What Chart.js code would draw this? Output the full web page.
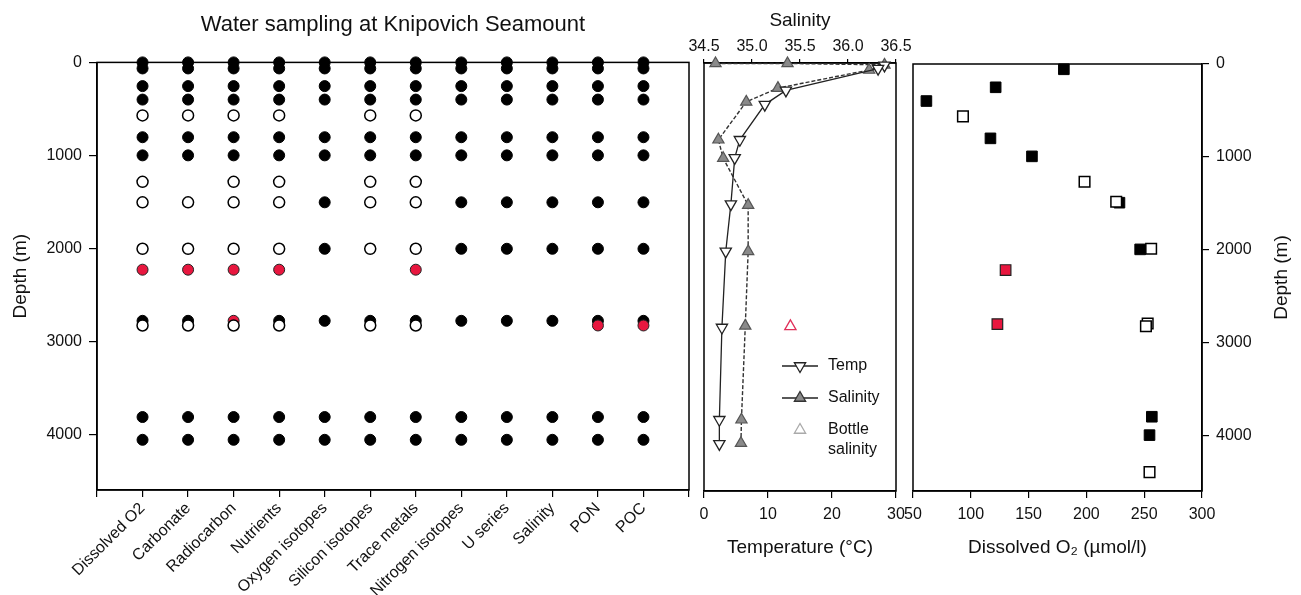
<!DOCTYPE html>
<html>
<head>
<meta charset="utf-8">
<script src="https://cdn.jsdelivr.net/npm/chart.js@4.4.1/dist/chart.umd.min.js"></script>
<style>
  body { margin: 0; background: #fff; }
  #wrap { position: relative; width: 1301px; height: 595px; }
  #wrap canvas { position: absolute; left: 0; top: 0; }
</style>
</head>
<body>
<div id="wrap">
  <canvas id="sampling" width="1301" height="595"></canvas>
  <canvas id="profile" width="1301" height="595"></canvas>
  <canvas id="oxygen" width="1301" height="595"></canvas>
</div>
<script>
// sampling grid
const categories = ['Dissolved O2', 'Carbonate', 'Radiocarbon', 'Nutrients', 'Oxygen isotopes',
  'Silicon isotopes', 'Trace metals', 'Nitrogen isotopes', 'U series', 'Salinity', 'PON', 'POC'];
const sampleDepths = [0, 65, 255, 400, 570, 805, 1000, 1285, 1505, 2005, 2230, 2780, 2830, 3815, 4060];
// one letter per depth: F filled, O open, R red, . none
const sampleCodes = [
  'FFFFOFFOOORFOFF', // Dissolved O2
  'FFFFOFF.OORFOFF', // Carbonate
  'FFFFOFFOOORROFF', // Radiocarbon
  'FFFFOFFOOORFOFF', // Nutrients
  'FFFF.FF.FF.F.FF', // Oxygen isotopes
  'FFFFOFFOOO.FOFF', // Silicon isotopes
  'FFFFOFFOOORFOFF', // Trace metals
  'FFFF.FF.FF.F.FF', // Nitrogen isotopes
  'FFFF.FF.FF.F.FF', // U series
  'FFFF.FF.FF.F.FF', // Salinity
  'FFFF.FF.FF.FRFF', // PON
  'FFFF.FF.FF.FRFF'  // POC
];
const depthTicks = [0, 1000, 2000, 3000, 4000];

// CTD profile
const tempDepth = [25, 60, 295, 447, 825, 1020, 1517, 2025, 2843, 3834, 4094];
const tempC = [28.2, 27.2, 12.8, 9.5, 5.6, 4.8, 4.2, 3.4, 2.8, 2.4, 2.4];
const salDepth = [5, 5, 20, 75, 270, 418, 825, 1023, 1528, 2025, 2825, 3834, 4086];
const salinity = [34.62, 35.37, 36.38, 36.22, 35.27, 34.94, 34.65, 34.70, 34.96, 34.96, 34.93, 34.89, 34.885];
const bottleDepth = [2830];
const bottleSal = [35.4];

// dissolved oxygen
const o2FilledDepth = [57, 251, 399, 801, 995, 1494, 1997, 3800, 3998];
const o2Filled = [180.5, 121.5, 61.6, 117, 152.9, 228.6, 246.5, 256.6, 254.6];
const o2OpenDepth = [564, 1268, 1484, 1990, 2795, 2825, 4397];
const o2Open = [93.2, 198.4, 225.8, 256, 253, 251.5, 254.6];
const o2RedDepth = [2220, 2802];
const o2Red = [130.1, 123];

Chart.defaults.font.family = '"Liberation Sans", Arial, sans-serif';
Chart.defaults.color = '#111';

const pairs = (xs, ys) => xs.map((x, i) => ({ x: x, y: ys[i] }));

function cells(code) {
  const pts = [];
  sampleCodes.forEach((row, c) => {
    [...row].forEach((ch, r) => {
      if (ch === code) pts.push({ x: c + 1, y: sampleDepths[r] });
    });
  });
  return pts;
}

const border = { display: true, color: '#000', width: 1.5 };
const tickGrid = len => ({ drawOnChartArea: false, drawTicks: true, tickLength: len, color: '#000', lineWidth: 1.2 });
const setDepthTicks = s => { s.ticks = depthTicks.map(v => ({ value: v })); };

const framePlugin = {
  id: 'frame',
  beforeDatasetsDraw(chart) {
    const { ctx, chartArea: a } = chart;
    ctx.save();
    ctx.strokeStyle = '#000';
    ctx.lineWidth = 1.5;
    ctx.strokeRect(a.left, a.top, a.right - a.left, a.bottom - a.top);
    ctx.restore();
  }
};

const baseOpts = {
  responsive: false,
  animation: false,
  events: []
};

// left: sampling plan
new Chart(document.getElementById('sampling'), {
  type: 'scatter',
  data: {
    datasets: [
      { label: 'Open', data: cells('O'), pointRadius: 5.5, backgroundColor: '#fff', borderColor: '#000', borderWidth: 1.5, clip: false },
      { label: 'Red', data: cells('R'), pointRadius: 5.5, backgroundColor: '#e8173f', borderColor: '#222', borderWidth: 1, clip: false },
      { label: 'Filled', data: cells('F'), pointRadius: 5.5, backgroundColor: '#000', borderColor: '#000', borderWidth: 1, clip: false }
    ]
  },
  options: {
    ...baseOpts,
    layout: { padding: { left: 0, right: 612, top: 0, bottom: 0 } },
    plugins: {
      legend: { display: false },
      tooltip: { enabled: false },
      title: {
        display: true,
        text: 'Water sampling at Knipovich Seamount',
        fullSize: false,
        color: '#111',
        font: { size: 22, weight: 'normal' },
        padding: { top: 12, bottom: 24 }
      }
    },
    scales: {
      x: {
        type: 'linear', min: 0, max: 13,
        border: border, grid: tickGrid(7),
        ticks: {
          stepSize: 1, autoSkip: false, maxRotation: 45, minRotation: 45,
          font: { size: 16 }, padding: 2,
          callback: v => categories[v - 1] || ''
        },
        afterFit: s => { s.height = 105; }
      },
      y: {
        type: 'linear', reverse: true, min: 0, max: 4600,
        border: border, grid: tickGrid(8),
        ticks: { font: { size: 16 }, padding: 7, callback: v => String(v) },
        afterBuildTicks: setDepthTicks,
        title: { display: true, text: 'Depth (m)', font: { size: 19 }, padding: { top: 9, bottom: 0 } },
        afterFit: s => { s.width = 97; }
      }
    }
  },
  plugins: [framePlugin]
});

// middle: temperature and salinity
const legendItems = [
  { text: ['Temp'], line: true, style: 'triangle', rotation: 180, fill: '#fff', stroke: '#222' },
  { text: ['Salinity'], line: true, style: 'triangle', rotation: 0, fill: '#8a8a8a', stroke: '#333' },
  { text: ['Bottle', 'salinity'], line: false, style: 'triangle', rotation: 0, fill: '#fff', stroke: '#aaa' }
];

const profileLegend = {
  id: 'profileLegend',
  afterDraw(chart) {
    const ctx = chart.ctx;
    ctx.save();
    ctx.font = '16px "Liberation Sans", Arial, sans-serif';
    ctx.textBaseline = 'middle';
    ctx.textAlign = 'left';
    legendItems.forEach((item, i) => {
      const y = 366 + i * 32;
      if (item.line) {
        ctx.strokeStyle = '#222';
        ctx.lineWidth = 1.5;
        ctx.beginPath();
        ctx.moveTo(782, y);
        ctx.lineTo(818, y);
        ctx.stroke();
      }
      ctx.fillStyle = item.fill;
      ctx.strokeStyle = item.stroke;
      ctx.lineWidth = 1.3;
      Chart.helpers.drawPoint(ctx, { pointStyle: item.style, rotation: item.rotation, radius: 6.5, borderWidth: 1.3 }, 800, y);
      ctx.fillStyle = '#111';
      item.text.forEach((t, k) => ctx.fillText(t, 828, y + k * 20));
    });
    ctx.restore();
  }
};

new Chart(document.getElementById('profile'), {
  type: 'scatter',
  data: {
    datasets: [
      {
        label: 'Bottle salinity', data: pairs(bottleSal, bottleDepth), xAxisID: 'xS',
        pointStyle: 'triangle', pointRadius: 6.5, pointBackgroundColor: '#fff',
        pointBorderColor: '#e0305a', pointBorderWidth: 1.3, clip: false
      },
      {
        label: 'Temp', data: pairs(tempC, tempDepth), xAxisID: 'xT', showLine: true,
        borderColor: '#222', borderWidth: 1.3,
        pointStyle: 'triangle', pointRotation: 180, pointRadius: 6.5,
        pointBackgroundColor: '#fff', pointBorderColor: '#222', pointBorderWidth: 1.3, clip: false
      },
      {
        label: 'Salinity', data: pairs(salinity, salDepth), xAxisID: 'xS', showLine: true,
        borderColor: '#333', borderWidth: 1.4, borderDash: [4, 2],
        pointStyle: 'triangle', pointRadius: 6.5,
        pointBackgroundColor: '#8a8a8a', pointBorderColor: '#555', pointBorderWidth: 1.2, clip: false
      }
    ]
  },
  options: {
    ...baseOpts,
    layout: { padding: { left: 704, right: 405, top: 0, bottom: 0 } },
    plugins: { legend: { display: false }, tooltip: { enabled: false } },
    scales: {
      xT: {
        type: 'linear', position: 'bottom', min: 0, max: 30,
        border: border, grid: tickGrid(7),
        ticks: { stepSize: 10, font: { size: 16 }, padding: 7 },
        title: { display: true, text: 'Temperature (°C)', font: { size: 19 }, padding: { top: 0, bottom: 36 } },
        afterFit: s => { s.height = 104; }
      },
      xS: {
        type: 'linear', position: 'top', min: 34.5, max: 36.5,
        border: border, grid: tickGrid(4),
        ticks: { stepSize: 0.5, font: { size: 16 }, padding: 3, callback: v => v.toFixed(1) },
        title: { display: true, text: 'Salinity', font: { size: 19 }, padding: { top: 9, bottom: 0 } },
        afterFit: s => { s.height = 63; }
      },
      y: { type: 'linear', display: false, reverse: true, min: 0, max: 4600 }
    }
  },
  plugins: [framePlugin, profileLegend]
});

// right: dissolved oxygen
const sideTitle = {
  id: 'sideTitle',
  afterDraw(chart) {
    const { ctx, chartArea } = chart;
    ctx.save();
    ctx.translate(1282, (chartArea.top + chartArea.bottom) / 2);
    ctx.rotate(-Math.PI / 2);
    ctx.font = '19px "Liberation Sans", Arial, sans-serif';
    ctx.fillStyle = '#111';
    ctx.textAlign = 'center';
    ctx.textBaseline = 'middle';
    ctx.fillText('Depth (m)', 0, 0);
    ctx.restore();
  }
};

new Chart(document.getElementById('oxygen'), {
  type: 'scatter',
  data: {
    datasets: [
      { label: 'Open', data: pairs(o2Open, o2OpenDepth), pointStyle: 'rect', pointRadius: 7.5, backgroundColor: '#fff', borderColor: '#000', borderWidth: 1.5, clip: false },
      { label: 'Red', data: pairs(o2Red, o2RedDepth), pointStyle: 'rect', pointRadius: 7.5, backgroundColor: '#e8173f', borderColor: '#222', borderWidth: 1.2, clip: false },
      { label: 'Filled', data: pairs(o2Filled, o2FilledDepth), pointStyle: 'rect', pointRadius: 7.5, backgroundColor: '#000', borderColor: '#000', borderWidth: 1, clip: false }
    ]
  },
  options: {
    ...baseOpts,
    layout: { padding: { left: 913, right: 0, top: 64, bottom: 0 } },
    plugins: { legend: { display: false }, tooltip: { enabled: false } },
    scales: {
      x: {
        type: 'linear', min: 50, max: 300,
        border: border, grid: tickGrid(7),
        ticks: { stepSize: 50, font: { size: 16 }, padding: 7 },
        title: { display: true, text: 'Dissolved O₂ (µmol/l)', font: { size: 19 }, padding: { top: 0, bottom: 36 } },
        afterFit: s => { s.height = 104; }
      },
      y: {
        type: 'linear', position: 'right', reverse: true, min: 0, max: 4600,
        border: border, grid: tickGrid(7),
        ticks: { font: { size: 16 }, padding: 7, callback: v => String(v) },
        afterBuildTicks: setDepthTicks,
        afterFit: s => { s.width = 99; }
      }
    }
  },
  plugins: [framePlugin, sideTitle]
});
</script>
</body>
</html>
